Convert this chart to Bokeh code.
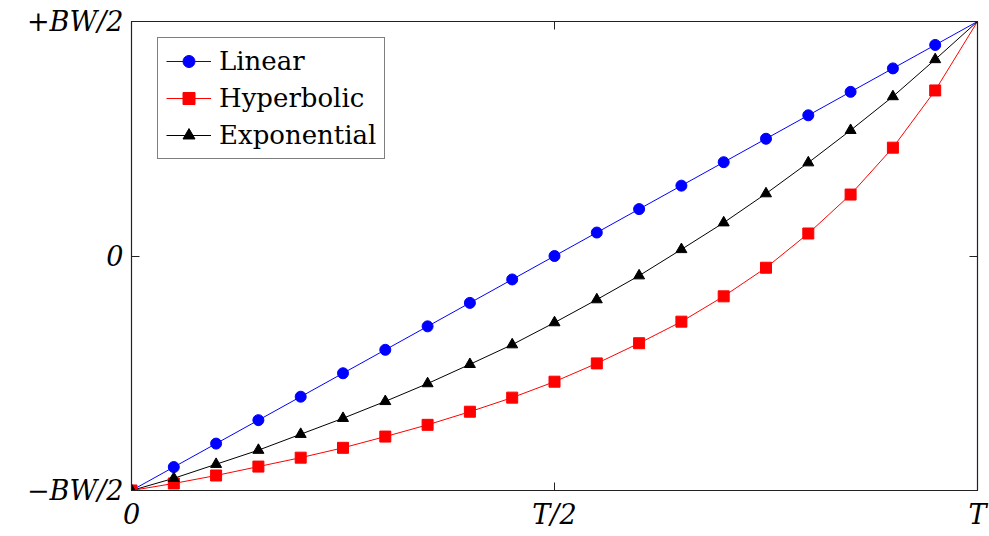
from bokeh.plotting import figure
from bokeh.models import Range1d, FixedTicker, LinearAxis, Legend, LegendItem
from bokeh.embed import file_html
from bokeh.resources import INLINE

# time axis (fraction of T) and normalized frequency (fraction of BW)
t = [0.0, 0.05, 0.10, 0.15, 0.20, 0.25, 0.30, 0.35, 0.40, 0.45, 0.50,
     0.55, 0.60, 0.65, 0.70, 0.75, 0.80, 0.85, 0.90, 0.95, 1.0]
linear = [-0.50, -0.45, -0.40, -0.35, -0.30, -0.25, -0.20, -0.15, -0.10, -0.05, 0.0,
          0.05, 0.10, 0.15, 0.20, 0.25, 0.30, 0.35, 0.40, 0.45, 0.50]
hyperbolic = [-0.500, -0.485, -0.468, -0.449, -0.430, -0.409, -0.385, -0.360, -0.332, -0.302, -0.268,
              -0.229, -0.186, -0.140, -0.086, -0.025, 0.048, 0.131, 0.231, 0.353, 0.500]
exponential = [-0.500, -0.474, -0.444, -0.414, -0.380, -0.346, -0.310, -0.272, -0.231, -0.189, -0.142,
               -0.093, -0.042, 0.014, 0.071, 0.133, 0.199, 0.268, 0.340, 0.419, 0.500]

x_ticks = [0.0, 0.5, 1.0]
x_tick_labels = ["0", "T/2", "T"]
y_ticks = [-0.5, 0.0, 0.5]
y_tick_labels = ["\u2212BW/2", "0", "+BW/2"]

FONT = "DejaVu Serif"

p = figure(width=989, height=536, output_backend="svg", toolbar_location=None,
           x_range=Range1d(0, 1), y_range=Range1d(-0.5, 0.5),
           min_border_left=131, min_border_right=12, min_border_top=21, min_border_bottom=46)
p.xgrid.visible = False
p.ygrid.visible = False
p.outline_line_color = "#222222"
p.outline_line_width = 1.2
p.background_fill_color = "white"
p.border_fill_color = "white"

for ax, ticks, labels in [(p.xaxis[0], x_ticks, x_tick_labels), (p.yaxis[0], y_ticks, y_tick_labels)]:
    ax.ticker = FixedTicker(ticks=ticks)
    ax.major_label_overrides = {tk: lb for tk, lb in zip(ticks, labels)}
    ax.minor_tick_line_color = None
    ax.major_tick_in = 8
    ax.major_tick_out = 0
    ax.major_tick_line_color = "#222222"
    ax.axis_line_color = "#222222"
    ax.major_label_text_font = FONT
    ax.major_label_text_font_size = "27px"
    ax.major_label_text_font_style = "italic"
    ax.major_label_text_color = "black"
    ax.major_label_standoff = 8

# mirrored ticks on top and right (no labels drawn)
top = LinearAxis(ticker=FixedTicker(ticks=x_ticks), major_label_text_font_size="1px",
                 major_label_text_color=None,
                 major_tick_in=8, major_tick_out=0, minor_tick_line_color=None,
                 axis_line_color=None, major_tick_line_color="#222222", major_label_standoff=0)
right = LinearAxis(ticker=FixedTicker(ticks=y_ticks), major_label_text_font_size="1px",
                   major_label_text_color=None,
                   major_tick_in=8, major_tick_out=0, minor_tick_line_color=None,
                   axis_line_color=None, major_tick_line_color="#222222", major_label_standoff=0)
p.add_layout(top, "above")
p.add_layout(right, "right")

lb_line = p.line(t, linear, color="blue", line_width=1)
hy_line = p.line(t, hyperbolic, color="red", line_width=1)
ex_line = p.line(t, exponential, color="black", line_width=1)

lb_pts = p.scatter(t[:-1], linear[:-1], marker="circle", size=11, color="blue")
hy_pts = p.scatter(t[:-1], hyperbolic[:-1], marker="square", size=11, color="red")
ex_pts = p.scatter(t[:-1], exponential[:-1], marker="triangle", size=11, color="black")

legend = Legend(items=[
    LegendItem(label="Linear", renderers=[lb_line, lb_pts]),
    LegendItem(label="Hyperbolic", renderers=[hy_line, hy_pts]),
    LegendItem(label="Exponential", renderers=[ex_line, ex_pts]),
], location=(26, 331))
legend.label_text_font = FONT
legend.label_text_font_size = "26px"
legend.label_text_color = "black"
legend.label_standoff = 8
legend.glyph_width = 45
legend.glyph_height = 30
legend.label_height = 30
legend.spacing = 7
legend.padding = 8
legend.margin = 0
legend.border_line_color = "black"
legend.border_line_width = 1
legend.background_fill_alpha = 1.0
p.add_layout(legend, "center")

open("out.html", "w").write(file_html(p, INLINE))
